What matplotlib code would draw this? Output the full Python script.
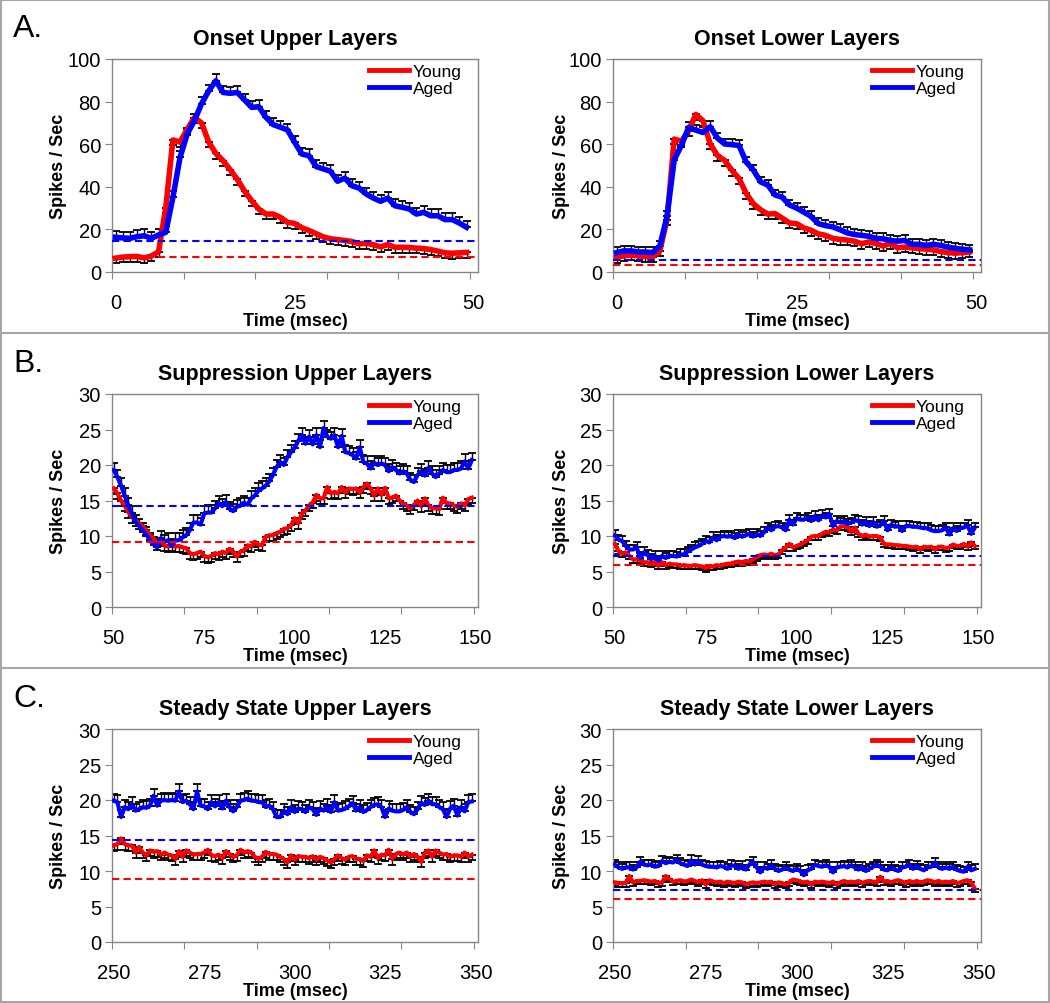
import numpy as np
import matplotlib.pyplot as plt
from matplotlib.lines import Line2D

plt.rcParams['font.family'] = ['Liberation Sans', 'DejaVu Sans']

# ---- data (spikes/sec per 1 ms bin) ----
onset_up_young = [6.5, 7.0, 7.2, 7.3, 6.6, 7.5, 9.5, 30.0, 62.0, 61.0,
                  67.0, 72.5, 70.0, 61.0, 55.7, 52.3, 48.0, 43.5, 38.0, 33.5,
                  29.5, 27.2, 27.2, 25.7, 23.3, 22.8, 20.8, 19.5, 18.0, 16.5,
                  15.6, 15.2, 14.8, 14.3, 13.2, 13.5, 12.8, 11.8, 12.9, 11.6,
                  11.6, 11.5, 11.2, 11.0, 10.5, 9.8, 9.0, 8.8, 9.0, 9.2]
onset_up_aged = [16.3, 16.0, 15.8, 16.6, 17.0, 15.8, 17.4, 18.6, 35.0, 53.8,
                 64.8, 71.0, 79.0, 85.0, 89.8, 84.3, 83.9, 84.3, 80.8, 77.3,
                 77.6, 72.6, 69.2, 68.0, 66.7, 60.9, 55.4, 54.6, 49.5, 48.4,
                 47.3, 42.6, 44.1, 40.5, 39.4, 36.6, 34.7, 33.2, 34.7, 31.1,
                 30.4, 29.6, 27.2, 28.0, 26.4, 26.4, 24.6, 24.6, 23.0, 21.0]
onset_low_young = [6.8, 7.6, 7.9, 7.6, 7.3, 7.1, 9.9, 24.6, 62.4, 61.4,
                   66.3, 74.0, 71.0, 60.1, 54.7, 52.4, 47.8, 43.9, 36.9, 32.0,
                   29.2, 27.2, 27.4, 25.3, 23.0, 22.7, 20.7, 19.6, 17.9, 17.2,
                   15.8, 15.3, 15.0, 14.5, 13.3, 14.1, 13.4, 12.2, 13.4, 11.4,
                   11.7, 11.4, 11.0, 10.7, 10.4, 9.6, 9.1, 8.8, 9.1, 9.4]
onset_low_aged = [9.1, 9.9, 9.9, 9.4, 9.4, 9.1, 12.2, 26.1, 52.7, 59.4,
                  67.9, 66.6, 65.5, 68.2, 62.9, 60.1, 59.8, 59.4, 51.6, 47.8,
                  42.3, 40.8, 36.2, 35.1, 31.5, 30.0, 28.1, 26.1, 22.7, 21.8,
                  21.2, 19.9, 18.4, 17.6, 17.2, 16.8, 15.8, 15.6, 14.8, 14.5,
                  14.8, 13.0, 13.0, 12.5, 13.0, 12.5, 11.7, 11.1, 10.7, 10.4]

supp_up_young = [16.7, 16.0, 15.0, 14.3, 13.4, 12.7, 12.2, 11.8, 11.4, 10.8,
                 10.1, 9.7, 8.8, 9.4, 8.7, 8.5, 8.7, 8.5, 8.6, 8.4,
                 8.3, 7.6, 7.4, 7.6, 7.8, 7.2, 7.0, 7.2, 7.6, 7.4,
                 7.8, 7.6, 8.2, 7.8, 7.1, 7.8, 8.0, 8.7, 8.5, 9.2,
                 8.8, 8.7, 9.9, 10.1, 10.1, 10.4, 10.6, 11.0, 11.1, 11.5,
                 12.5, 11.8, 13.2, 13.6, 14.3, 14.7, 15.8, 15.3, 15.3, 16.9,
                 16.0, 16.2, 16.0, 16.9, 16.1, 16.7, 16.6, 16.7, 16.1, 16.9,
                 17.4, 16.7, 15.7, 16.7, 15.8, 16.8, 15.3, 15.4, 15.7, 15.0,
                 14.6, 14.3, 13.9, 14.4, 15.0, 14.2, 15.3, 14.3, 13.9, 13.9,
                 13.8, 15.4, 14.6, 14.6, 14.3, 14.1, 14.6, 14.3, 15.2, 15.4]
supp_up_aged = [19.3, 18.3, 17.1, 15.7, 14.3, 13.2, 12.0, 11.4, 10.8, 10.2,
                9.4, 8.8, 8.4, 9.7, 9.2, 9.4, 8.6, 9.4, 9.4, 9.8,
                10.1, 10.8, 11.9, 11.9, 11.6, 13.2, 13.3, 13.3, 13.9, 14.6,
                14.2, 14.8, 13.8, 13.5, 14.1, 14.3, 14.7, 14.4, 15.3, 15.7,
                16.4, 16.7, 17.1, 17.7, 18.6, 19.7, 20.4, 20.0, 21.1, 21.8,
                22.4, 23.4, 24.2, 23.0, 24.0, 22.9, 24.2, 22.5, 25.2, 24.0,
                23.7, 24.2, 22.5, 24.1, 21.8, 21.7, 21.4, 20.9, 22.5, 20.4,
                20.2, 19.5, 20.3, 20.0, 20.2, 20.0, 19.1, 19.7, 19.3, 18.8,
                19.1, 18.8, 17.9, 17.6, 18.6, 19.1, 18.5, 19.6, 18.8, 18.3,
                18.8, 19.3, 19.0, 19.0, 19.3, 19.3, 19.5, 20.5, 19.5, 20.7]
supp_low_young = [8.9, 7.9, 7.5, 7.7, 7.2, 6.7, 6.7, 6.6, 6.3, 6.3,
                  6.1, 6.3, 5.8, 6.3, 5.9, 6.1, 6.0, 6.0, 5.8, 5.9,
                  5.8, 5.8, 5.9, 5.8, 5.7, 5.5, 5.7, 5.7, 5.9, 5.8,
                  6.0, 6.1, 6.1, 6.3, 6.4, 6.3, 6.5, 6.4, 6.7, 7.0,
                  7.3, 7.4, 7.3, 7.5, 7.3, 7.4, 8.0, 8.4, 8.9, 8.4,
                  8.6, 8.8, 9.1, 9.4, 9.9, 10.0, 10.0, 10.3, 10.6, 10.5,
                  10.9, 10.8, 11.3, 11.4, 11.2, 10.6, 11.2, 10.3, 10.0, 10.2,
                  9.9, 10.0, 10.0, 9.8, 8.9, 8.8, 8.8, 8.7, 8.7, 8.6,
                  8.6, 8.5, 8.4, 8.5, 8.1, 8.5, 8.4, 8.5, 8.1, 8.5,
                  8.5, 8.3, 8.4, 8.8, 8.6, 8.6, 8.9, 8.5, 9.1, 8.6]
supp_low_aged = [10.1, 9.5, 9.3, 8.6, 8.1, 8.1, 8.4, 6.9, 7.7, 7.3,
                 6.7, 7.2, 6.5, 7.2, 6.9, 7.2, 7.2, 7.1, 7.4, 7.4,
                 7.8, 8.1, 8.4, 8.6, 8.9, 9.3, 9.1, 9.8, 9.4, 9.9,
                 10.0, 9.9, 10.0, 9.7, 10.2, 9.9, 10.1, 10.3, 9.9, 10.3,
                 10.0, 10.5, 11.2, 10.8, 11.3, 11.4, 11.2, 10.8, 12.3, 11.6,
                 12.5, 12.3, 12.3, 12.6, 12.1, 12.8, 12.2, 12.9, 12.6, 13.1,
                 11.4, 12.1, 11.9, 12.1, 11.7, 11.9, 12.2, 12.1, 11.6, 12.0,
                 11.4, 12.0, 11.3, 11.5, 12.1, 10.8, 11.6, 11.3, 11.4, 10.7,
                 11.4, 11.4, 11.3, 11.3, 11.2, 11.1, 11.1, 10.8, 10.7, 10.7,
                 10.8, 11.2, 10.2, 11.1, 10.7, 11.1, 11.2, 11.5, 10.3, 11.2]

steady_up_young = [13.6, 13.8, 14.6, 13.8, 13.6, 13.6, 12.6, 13.4, 12.6, 12.2,
                   12.9, 12.7, 12.8, 12.3, 12.6, 12.3, 12.2, 11.7, 12.8, 12.0,
                   12.9, 12.6, 12.3, 12.4, 12.4, 12.6, 13.0, 12.2, 12.1, 12.3,
                   11.8, 12.8, 12.4, 12.0, 12.2, 13.0, 12.6, 12.8, 12.6, 12.0,
                   11.7, 12.0, 12.7, 12.4, 12.4, 12.3, 12.0, 11.7, 11.2, 12.2,
                   11.6, 12.1, 12.0, 12.0, 11.8, 12.1, 11.6, 12.0, 11.8, 11.5,
                   11.2, 11.7, 12.2, 11.8, 11.6, 12.0, 12.1, 11.7, 11.7, 11.4,
                   12.2, 12.0, 12.9, 11.8, 12.3, 12.2, 13.0, 11.7, 12.4, 12.6,
                   12.3, 12.6, 12.0, 12.4, 12.0, 11.3, 12.6, 12.9, 12.0, 12.9,
                   12.6, 12.3, 12.4, 12.0, 12.2, 12.2, 12.0, 12.6, 12.0, 12.3]
steady_up_aged = [19.9, 19.7, 17.6, 19.0, 18.7, 19.4, 18.5, 18.7, 19.0, 18.9,
                  19.2, 20.6, 19.2, 19.9, 20.0, 19.9, 20.0, 19.9, 21.2, 19.7,
                  19.9, 19.4, 18.7, 21.2, 19.2, 19.1, 18.7, 19.7, 19.1, 19.7,
                  18.8, 19.9, 19.0, 18.4, 19.0, 19.9, 20.0, 20.2, 19.9, 19.9,
                  19.7, 19.7, 19.0, 19.2, 18.7, 17.6, 17.6, 18.5, 18.0, 19.0,
                  18.3, 18.8, 18.7, 18.3, 19.0, 18.7, 17.9, 18.8, 18.5, 19.1,
                  18.3, 19.7, 18.5, 18.6, 18.8, 19.1, 19.6, 18.5, 19.0, 18.3,
                  18.6, 19.0, 19.3, 19.4, 19.0, 17.6, 18.8, 18.5, 18.4, 18.4,
                  18.6, 19.0, 18.3, 18.0, 18.7, 19.6, 19.3, 19.9, 19.4, 19.4,
                  19.0, 18.7, 17.6, 18.8, 19.2, 17.8, 19.0, 18.4, 19.7, 19.8]
steady_low_young = [8.4, 8.3, 8.3, 8.3, 9.3, 8.4, 8.6, 8.6, 8.7, 8.6,
                    8.5, 8.6, 8.3, 8.4, 9.3, 8.9, 8.5, 8.6, 8.7, 8.5,
                    8.6, 8.8, 8.6, 8.4, 8.7, 8.1, 8.7, 8.5, 8.4, 8.5,
                    8.3, 8.5, 8.4, 8.3, 8.5, 8.4, 8.1, 8.3, 8.4, 8.3,
                    8.4, 8.5, 8.4, 8.5, 8.1, 8.4, 8.3, 8.1, 8.4, 8.8,
                    8.7, 8.5, 8.4, 8.5, 8.1, 8.5, 8.4, 8.5, 8.4, 8.3,
                    8.5, 8.1, 8.4, 8.6, 8.4, 8.5, 8.4, 8.6, 8.3, 8.5,
                    8.6, 8.5, 8.4, 9.2, 8.5, 8.6, 8.4, 8.6, 8.7, 8.5,
                    8.3, 8.6, 8.4, 8.6, 8.4, 8.5, 8.7, 8.6, 8.4, 8.6,
                    8.4, 8.5, 8.4, 8.6, 8.3, 8.4, 8.6, 8.7, 8.4, 7.5]
steady_low_aged = [10.9, 10.5, 10.3, 10.5, 10.5, 10.2, 10.5, 11.3, 10.9, 10.8,
                   10.9, 10.6, 10.7, 11.4, 11.1, 11.3, 11.2, 11.5, 11.1, 10.9,
                   10.7, 11.5, 10.9, 11.4, 10.9, 10.7, 10.6, 10.6, 10.5, 10.7,
                   10.6, 10.3, 10.8, 10.7, 10.3, 10.7, 10.2, 10.9, 11.3, 10.5,
                   9.8, 10.5, 10.3, 10.8, 10.3, 10.0, 10.2, 10.5, 10.2, 10.0,
                   10.3, 10.0, 9.4, 10.1, 10.3, 10.9, 10.7, 10.6, 10.8, 10.6,
                   9.8, 10.5, 10.6, 10.7, 10.5, 10.8, 10.5, 10.2, 10.6, 10.0,
                   10.3, 10.6, 10.9, 10.6, 10.2, 10.1, 10.5, 10.2, 10.0, 10.5,
                   10.6, 10.9, 10.3, 10.7, 10.3, 10.1, 10.5, 10.6, 11.2, 10.5,
                   10.3, 10.5, 10.3, 10.6, 10.2, 10.0, 9.9, 10.6, 10.1, 10.3]

# typical SEM of each series (young, aged)
onset_up_err = (2.5, 3.0)
onset_low_err = (2.5, 2.5)
supp_up_err = (0.8, 1.0)
supp_low_err = (0.5, 0.7)
steady_up_err = (0.8, 1.0)
steady_low_err = (0.5, 0.7)

# spontaneous-rate reference lines (young, aged)
onset_up_base = (7.2, 14.4)
onset_low_base = (3.1, 5.6)
supp_up_base = (9.1, 14.2)
supp_low_base = (5.95, 7.2)
steady_up_base = (8.9, 14.4)
steady_low_base = (6.1, 7.3)

titles = ["Onset Upper Layers", "Onset Lower Layers",
          "Suppression Upper Layers", "Suppression Lower Layers",
          "Steady State Upper Layers", "Steady State Lower Layers"]
row_letters = ["A.", "B.", "C."]

RED = '#ff0000'
BLUE = '#0000ff'
GRAY = '#868686'

W, H = 1050, 1004
fig = plt.figure(figsize=(W / 100, H / 100), dpi=100)


def add_ax(left, right, top, bottom):
    return fig.add_axes([left / W, 1 - bottom / H, (right - left) / W, (bottom - top) / H])


def draw_panel(ax, title, start, young, aged, errs, base, ymax, ystep,
               tick_step, label_step, lw):
    xy = start + 0.5 + np.arange(len(young))
    xa = start + 0.5 + np.arange(len(aged))
    ye = np.full(len(young), errs[0])
    ae = np.full(len(aged), errs[1])
    ax.errorbar(xy, young, yerr=[ye, np.zeros(len(young))], fmt='none',
                ecolor='black', elinewidth=1, capsize=3, capthick=1.3, zorder=2)
    ax.errorbar(xa, aged, yerr=[np.zeros(len(aged)), ae], fmt='none',
                ecolor='black', elinewidth=1, capsize=3, capthick=1.3, zorder=2)
    ax.plot(xy, young, color=RED, lw=lw, solid_joinstyle='round', zorder=3, label='Young')
    ax.plot(xa, aged, color=BLUE, lw=lw, solid_joinstyle='round', zorder=3.1, label='Aged')

    xmax = start + 51.1 if tick_step == 10 else start + 101.2
    ax.hlines(base[0], start, xmax, colors=RED, lw=1.5, linestyles=(0, (3.5, 2)), zorder=4)
    ax.hlines(base[1], start, xmax, colors=BLUE, lw=1.5, linestyles=(0, (3.5, 2)), zorder=4)

    span = 50 if tick_step == 10 else 100
    ax.set_xlim(start, xmax)
    ax.set_ylim(0, ymax)
    ax.set_xticks(np.arange(start, start + span + 1, tick_step))
    lab = np.arange(start, start + span + 1, label_step)
    ax.set_xticks(lab + 0.5, minor=True)
    ax.set_xticklabels([str(v) for v in lab], minor=True)
    ax.set_yticks(np.arange(0, ymax + 1, ystep))

    for s in ax.spines.values():
        s.set_color(GRAY)
        s.set_linewidth(1)
    ax.tick_params(axis='x', which='major', direction='out', length=5, color=GRAY,
                   labelbottom=False)
    ax.tick_params(axis='x', which='minor', length=0, pad=15, labelsize=14.5)
    ax.tick_params(axis='y', direction='out', length=5, color=GRAY, labelsize=14.5, pad=3)

    ax.set_title(title, fontsize=15.5, fontweight='bold', pad=11)
    ax.set_xlabel("Time (msec)", fontsize=13, fontweight='bold')
    ax.xaxis.set_label_coords(0.5, -0.19)
    ax.set_ylabel("Spikes / Sec", fontsize=13, fontweight='bold')

    handles = [Line2D([0], [0], color=RED, lw=3.5), Line2D([0], [0], color=BLUE, lw=3.5)]
    ax.legend(handles, ["Young", "Aged"], loc='upper right', bbox_to_anchor=(0.955, 0.975),
              frameon=False, fontsize=12.5, handlelength=2.3, handletextpad=0.2,
              labelspacing=0.1, borderpad=0, borderaxespad=0)


rows = [
    (0, 0, 100, 20, 10, 25, 4.0,
     [(onset_up_young, onset_up_aged, onset_up_err, onset_up_base),
      (onset_low_young, onset_low_aged, onset_low_err, onset_low_base)]),
    (335, 50, 30, 5, 20, 25, 3.0,
     [(supp_up_young, supp_up_aged, supp_up_err, supp_up_base),
      (supp_low_young, supp_low_aged, supp_low_err, supp_low_base)]),
    (670, 250, 30, 5, 20, 25, 3.0,
     [(steady_up_young, steady_up_aged, steady_up_err, steady_up_base),
      (steady_low_young, steady_low_aged, steady_low_err, steady_low_base)]),
]

cols = [(112, 478, -0.123), (613, 981, -0.117)]

for r, (y0, start, ymax, ystep, tstep, lstep, lw, series) in enumerate(rows):
    for c, (left, right, ylab_x) in enumerate(cols):
        ax = add_ax(left, right, y0 + 60, y0 + 273)
        young, aged, errs, base = series[c]
        draw_panel(ax, titles[2 * r + c], start, young, aged, errs, base,
                   ymax, ystep, tstep, lstep, lw)
        ax.yaxis.set_label_coords(ylab_x, 0.5)
    fig.text(13 / W, 1 - (y0 + 14) / H, row_letters[r], fontsize=23, va='top', ha='left')

# panel frames
for yb in [1, 334, 669, 1003]:
    fig.add_artist(Line2D([0, 1], [1 - yb / H, 1 - yb / H], color='#a6a6a6', lw=1.5,
                          transform=fig.transFigure))
for xb in [1, 1049]:
    fig.add_artist(Line2D([xb / W, xb / W], [0, 1], color='#a6a6a6', lw=1.5,
                          transform=fig.transFigure))

fig.savefig('out.png', dpi=100)
